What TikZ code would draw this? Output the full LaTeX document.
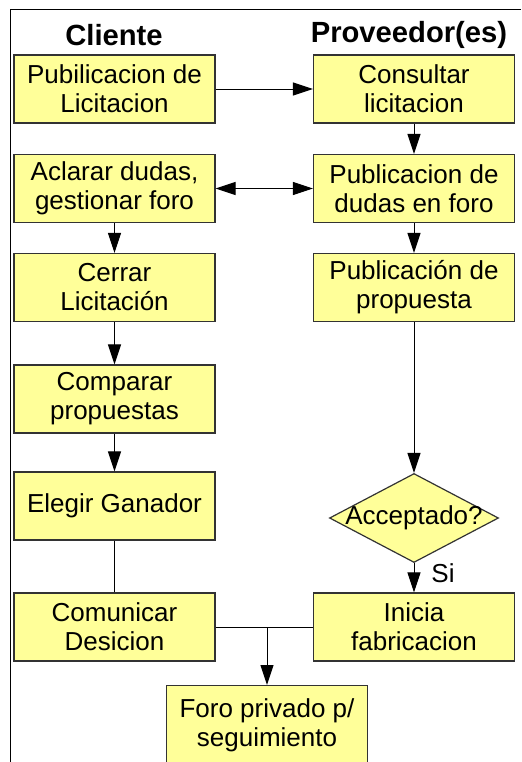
\documentclass[tikz,border=0pt]{standalone}
\usepackage{fontspec}
\setmainfont{Liberation Sans}
\usetikzlibrary{arrows.meta,shapes.geometric}
\definecolor{caja}{HTML}{FFFF99}
\definecolor{borde}{HTML}{333333}
\tikzset{
  paso/.style={draw=borde,fill=caja,line width=0.6pt,minimum width=100.5pt,minimum height=34pt,inner sep=0pt,align=center,font=\fontsize{13}{14.5}\selectfont},
  decision/.style={draw=borde,fill=caja,diamond,line width=0.6pt,minimum width=84.5pt,minimum height=44.5pt,inner sep=0pt},
  titulo/.style={font=\fontsize{14.6}{16}\selectfont\bfseries},
  >={Triangle[length=10pt,width=6.5pt]}
}
\begin{document}
\begin{tikzpicture}[x=0.5pt,y=-0.5pt,line width=0.5pt]
\useasboundingbox (0,0) rectangle (521,762);
\draw(10,762)--(10,9)--(521,9);
%
\node[titulo] (cli) at (114,35) {Cliente};
\node[titulo] (prov) at (409,35) {Proveedor(es)};
%
\node[paso] (pub) at (114.5,89) {Pubilicacion de\\Licitacion};
\node[paso] (aclarar) at (114.5,188.5) {Aclarar dudas,\\gestionar foro};
\node[paso] (cerrar) at (114.5,287.5) {Cerrar\\Licitación};
\node[paso] (comparar) at (114.5,399) {Comparar\\propuestas};
\node[paso] (elegir) at (114.5,506) {Elegir Ganador};
\node[paso] (comunicar) at (114.5,627) {Comunicar\\Desicion};
%
\node[paso] (consultar) at (414,89) {Consultar\\licitacion};
\node[paso] (dudas) at (414,188.5) {Publicacion de\\dudas en foro};
\node[paso] (propuesta) at (414,287.5) {Publicación de\\propuesta};
\node[decision] (acept) at (414,518) {};
\node[font=\fontsize{13}{14.5}\selectfont,inner sep=0pt] (acepttxt) at (acept) {Acceptado?};
\node[paso] (inicia) at (414,627) {Inicia\\fabricacion};
%
\node[paso,minimum height=40pt,anchor=north] (foro) at (267,685) {Foro privado p/\\seguimiento};
%
\draw[->](pub)--(consultar);
\draw[->](consultar)--(dudas);
\draw[<->](aclarar)--(dudas);
\draw[->](aclarar)--(cerrar);
\draw[->](dudas)--(propuesta);
\draw[->](cerrar)--(comparar);
\draw[->](comparar)--(elegir);
\draw[->](propuesta)--(acept);
\draw(elegir)--(comunicar);
\draw[->](acept)--(inicia);
\node[fill=white,font=\fontsize{13}{14.5}\selectfont,inner sep=2pt] (si) at (443,573) {Si};
%
\draw(comunicar)--(inicia);
\coordinate (rama) at (267,627);
\draw[->](rama)--(foro);
\end{tikzpicture}
\end{document}
